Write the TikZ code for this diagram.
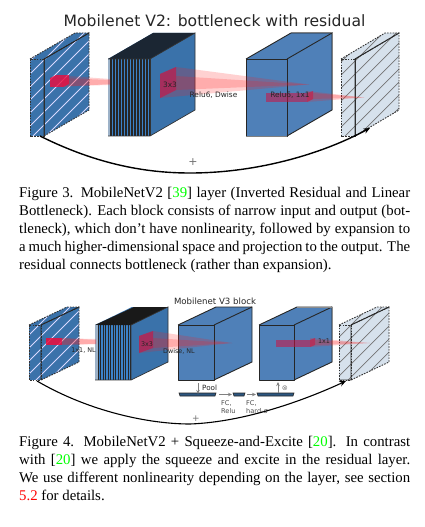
\documentclass[tikz,border=0pt]{standalone}
\usepackage{fontspec}
\setmainfont{Liberation Serif}
\newfontfamily\djv{DejaVu Sans}
\usetikzlibrary{arrows.meta}
\definecolor{blk}{HTML}{3A72AA}
\definecolor{blkb}{HTML}{4F80B8}
\definecolor{stripeb}{HTML}{3C82C8}
\definecolor{lite}{HTML}{D6E1EC}
\definecolor{darktop}{HTML}{1B2633}
\definecolor{pale}{HTML}{9DB2C8}
\definecolor{patch}{HTML}{D01040}
\definecolor{hotpatch}{HTML}{F00A3C}
\tikzset{
 x=1pt,y=-1pt,
 edge/.style={draw=black!85,line width=0.9pt,line join=round},
 dashedge/.style={draw=black!80,line width=0.9pt,dash pattern=on 1.6pt off 1.2pt},
 hatchw/.style={draw=white!85!blue,line width=0.8pt},
 hatchd/.style={draw=black!55,line width=0.7pt},
 cone/.style={fill=red!90!white,fill opacity=0.2,draw=none},
 patchf/.style={fill=patch,fill opacity=0.55,draw=none},
 patchs/.style={fill=patch,fill opacity=0.62,draw=none},
 patchh/.style={fill=hotpatch,fill opacity=0.8,draw=none},
 lab/.style={font=\djv\fontsize{#1}{#1}\selectfont,text=black!85,inner sep=0pt},
 lab/.default=7.2,
 res/.style={draw=black,line width=1.4pt,-{Stealth[length=6.5pt,width=5.5pt]}},
 gar/.style={draw=black!50,line width=0.9pt,-{Stealth[length=4pt,width=3.5pt]}},
 flat/.style={fill=blk!75!black,draw=black!85,line width=0.6pt},
 capt/.style={anchor=north west,inner sep=0pt,font=\fontsize{14.8}{18}\selectfont,align=left},
}
\newcommand{\faces}[8]{% x0 x1 dx dy ytop ybot fill frontfill
 \path[fill=#7] (#2,#5)--++(#3,-#4)--++(0,#6-#5)--(#2,#6)--cycle;
 \path[fill=#7] (#1,#5)--(#2,#5)--++(#3,-#4)--++(#1-#2,0)--cycle;
 \path[fill=#8] (#1,#5) rectangle (#2,#6);}
\newcommand{\outline}[7]{% x0 x1 dx dy ytop ybot style
 \draw[#7] (#2,#5)--++(#3,-#4)--++(0,#6-#5)--(#2,#6);
 \draw[#7] (#1,#5)--++(#3,-#4)--++(#2-#1,0);
 \draw[#7] (#1,#5) rectangle (#2,#6);
 \draw[#7] (#2,#5)--(#2,#6);}
\newcommand{\hatchlab}[7]{% x0 x1 dx dy ytop ybot style
 \begin{scope}
 \clip (#1,#5)--++(#3,-#4)--++(#2-#1,0)--++(0,#6-#5)--(#2,#6)--(#1,#6)--cycle;
 \foreach \c in {0,13,...,780} {\draw[#7] (\c,0)--(0,\c);}
 \end{scope}}
\begin{document}
\begin{tikzpicture}
\useasboundingbox (0,0) rectangle (424,527);
\fill[white] (0,0) rectangle (424,527);
% ---------- Figure 3
\node[lab=15.6] (t3) at (214.5,21) {Mobilenet V2: bottleneck with residual};
% input slab
\faces{30}{44}{45}{26}{59}{136}{blk}{blk}
\hatchlab{30}{44}{45}{26}{59}{136}{hatchw}
\outline{30}{44}{45}{26}{59}{136}{dashedge}
\draw[edge] (44,59)--(89,33) (44,59)--(44,136);
% expansion
\faces{108}{150}{45}{26}{59}{136}{blk}{stripeb}
\path[fill=darktop] (108,59)--(150,59)--(195,33)--(153,33)--cycle;
\path[fill=pale] (108,59) rectangle (111,136);
\foreach \x in {111,114,...,150} {\draw[black!85,line width=1.1pt] (\x,59)--(\x,136);}
\draw[black!80,line width=.7pt] (108,59)--(150,59)--(195,33)--(195,110)--(150,136)--(108,136);
\draw[black!80,line width=.7pt] (150,59)--(150,136);
% projection
\faces{246}{287}{45}{26}{59}{136}{blkb}{blkb}
\outline{246}{287}{45}{26}{59}{136}{edge}
\draw[black!50,line width=1pt] (246,136)--(287,136) (291,33)--(332,33)--(332,110);
% output slab
\faces{341}{355}{44}{26}{59}{136}{lite}{lite}
\hatchlab{341}{355}{44}{26}{59}{136}{hatchd}
\outline{341}{355}{44}{26}{59}{136}{dashedge}
\draw[edge] (355,59)--(399,33) (355,59)--(355,136);
% cones
\path[cone] (69,76)--(110,79)--(110,85)--(69,86)--cycle;
\path[cone] (62,78)--(110,80)--(110,84)--(62,87)--cycle;
\path[patchh] (50,78) rectangle (63,87);
\path[patchh] (63,78)--(69,75)--(69,84)--(63,87)--cycle;
\path[patchh] (50,78)--(56,75)--(69,75)--(63,78)--cycle;
\path[cone] (176,67)--(309,84.5)--(160,98)--(160,74)--cycle;
\path[cone] (176,76)--(309,84.5)--(176,90)--cycle;
\path[patchs] (160,74)--(176,67)--(176,90)--(160,98)--cycle;
\path[patchf] (266,93) rectangle (307,102);
\path[patchs] (307,93)--(313,91)--(313,99)--(307,102)--cycle;
\path[cone] (307,91)--(364,97.5)--(307,102)--cycle;
\path[cone] (313,93)--(364,97.5)--(313,99)--cycle;
\node[lab=7.4] (a1) at (170,85) {3x3};
\node[lab=7.4] (a2) at (213.5,95) {Relu6, Dwise};
\node[lab=7.4] (a3) at (290,95) {Relu6, 1x1};
\coordinate (r3a) at (40,136);
\coordinate (r3b) at (370,128);
\draw[res] (r3a) .. controls (100,166) and (150,173) .. (190,173)
  .. controls (255,173) and (320,155) .. (r3b);
\node[lab=11,text=black!55] (p3) at (193,162.5) {+};
% ---------- caption 3
\node[capt] (c3) at (19,187) {%
\makebox[391pt][s]{Figure 3. MobileNetV2 [\textcolor{green}{39}] layer (Inverted Residual and Linear}\\
\makebox[391pt][s]{Bottleneck). Each block consists of narrow input and output (bot-}\\
\makebox[391pt][s]{tleneck), which don’t have nonlinearity, followed by expansion to}\\
\makebox[391pt][s]{a much higher-dimensional space and projection to the output. The}\\
residual connects bottleneck (rather than expansion).};
% ---------- Figure 4
\node[lab=8.6] (t4) at (215,301) {Mobilenet V3 block};
\faces{29}{41}{38}{18}{325}{380}{blk}{blk}
\hatchlab{29}{41}{38}{18}{325}{380}{hatchw}
\outline{29}{41}{38}{18}{325}{380}{dashedge}
\draw[edge] (41,325)--(79,307) (41,325)--(41,380);
\faces{95}{131}{37}{18}{325}{380}{blk}{stripeb}
\path[fill=black!90] (95,325)--(131,325)--(168,307)--(134,307)--cycle;
\path[fill=pale] (95,325) rectangle (98,380);
\foreach \x in {98,100.5,...,131} {\draw[black!85,line width=.95pt] (\x,325)--(\x,380);}
\draw[black!80,line width=.7pt] (95,380)--(131,380)--(168,362)--(168,307)--(131,325)--(131,380);
\faces{178}{214}{38}{18}{325}{380}{blkb}{blkb}
\outline{178}{214}{38}{18}{325}{380}{edge}
\faces{259}{294}{38}{18}{325}{380}{blkb}{blkb}
\outline{259}{294}{38}{18}{325}{380}{edge}
\draw[black!45,line width=1pt] (297,307)--(332,307)--(332,362);
\faces{339}{351}{38}{18}{325}{380}{lite}{lite}
\hatchlab{339}{351}{38}{18}{325}{380}{hatchd}
\outline{339}{351}{38}{18}{325}{380}{dashedge}
\draw[edge] (351,325)--(389,307) (351,325)--(351,380) (339,380)--(351,380);
% cones
\path[cone] (46,338)--(96,339)--(96,344)--(46,345)--cycle;
\path[cone] (62,338)--(96,340)--(96,344)--(62,345)--cycle;
\path[patchh] (46,338) rectangle (56,345);
\path[patchh] (56,338) rectangle (62,345);
\path[cone] (153,331)--(232,343)--(139,353)--(139,336)--cycle;
\path[cone] (153,338)--(232,343)--(153,348)--cycle;
\path[patchs] (139,336)--(153,331)--(153,348)--(139,353)--cycle;
\path[patchf] (276,340) rectangle (310,347);
\path[patchs] (310,340)--(315,338)--(315,345)--(310,347)--cycle;
\path[cone] (310,338)--(370,343)--(310,347)--cycle;
\path[cone] (315,340)--(370,343)--(315,345)--cycle;
\node[lab=6.4] (b1) at (147,344) {3x3};
\node[lab=6.4] (b3) at (83.5,351) {1x1, NL};
\node[lab=6.4] (b4) at (179,351) {Dwise, NL};
\node[lab=6.4] (b5) at (324,341) {1x1};
% squeeze
\path[flat] (179,393)--(216,393)--(215,396)--(180,396)--cycle;
\path[flat] (233,393)--(245,393)--(244,396)--(234,396)--cycle;
\path[flat] (257,393)--(294,393)--(293,396)--(258,396)--cycle;
\coordinate (pa) at (198,383); \coordinate (pb) at (198,394);
\coordinate (ua) at (278,393); \coordinate (ub) at (278,382);
\coordinate (f1) at (219,394.5); \coordinate (f2) at (232,394.5);
\coordinate (f3) at (247,394.5); \coordinate (f4) at (256,394.5);
\draw[gar] (pa)--(pb);
\draw[gar] (ua)--(ub);
\draw[gar,line width=.7pt] (f1)--(f2);
\draw[gar,line width=.7pt] (f3)--(f4);
\node[lab=7.2,anchor=west] (s1) at (202,388) {Pool};
\node[lab=7.2,text=black!50] (s2) at (285,388) {⊗};
\node[lab=6.6,anchor=north west,align=left,text=black!70,font=\djv\fontsize{6.6}{8.4}\selectfont] (s3) at (221,400) {FC,\\Relu};
\node[lab=6.6,anchor=north west,align=left,text=black!70,font=\djv\fontsize{6.6}{8.4}\selectfont] (s4) at (246,400) {FC,\\hard-σ};
\coordinate (r4a) at (37,381);
\coordinate (r4b) at (346,381);
\draw[res,line width=1.1pt] (r4a) .. controls (90,412) and (150,424) .. (190,424)
  .. controls (245,422) and (305,400) .. (r4b);
\node[lab=9,text=black!55] (p4) at (196,419) {+};
% ---------- caption 4
\node[capt] (c4) at (19,436.5) {%
\makebox[391pt][s]{Figure 4. MobileNetV2 + Squeeze-and-Excite [\textcolor{green}{20}]. In contrast}\\
\makebox[391pt][s]{with [\textcolor{green}{20}] we apply the squeeze and excite in the residual layer.}\\
\makebox[391pt][s]{We use different nonlinearity depending on the layer, see section}\\
\textcolor{red}{5.2} for details.};
\end{tikzpicture}
\end{document}
